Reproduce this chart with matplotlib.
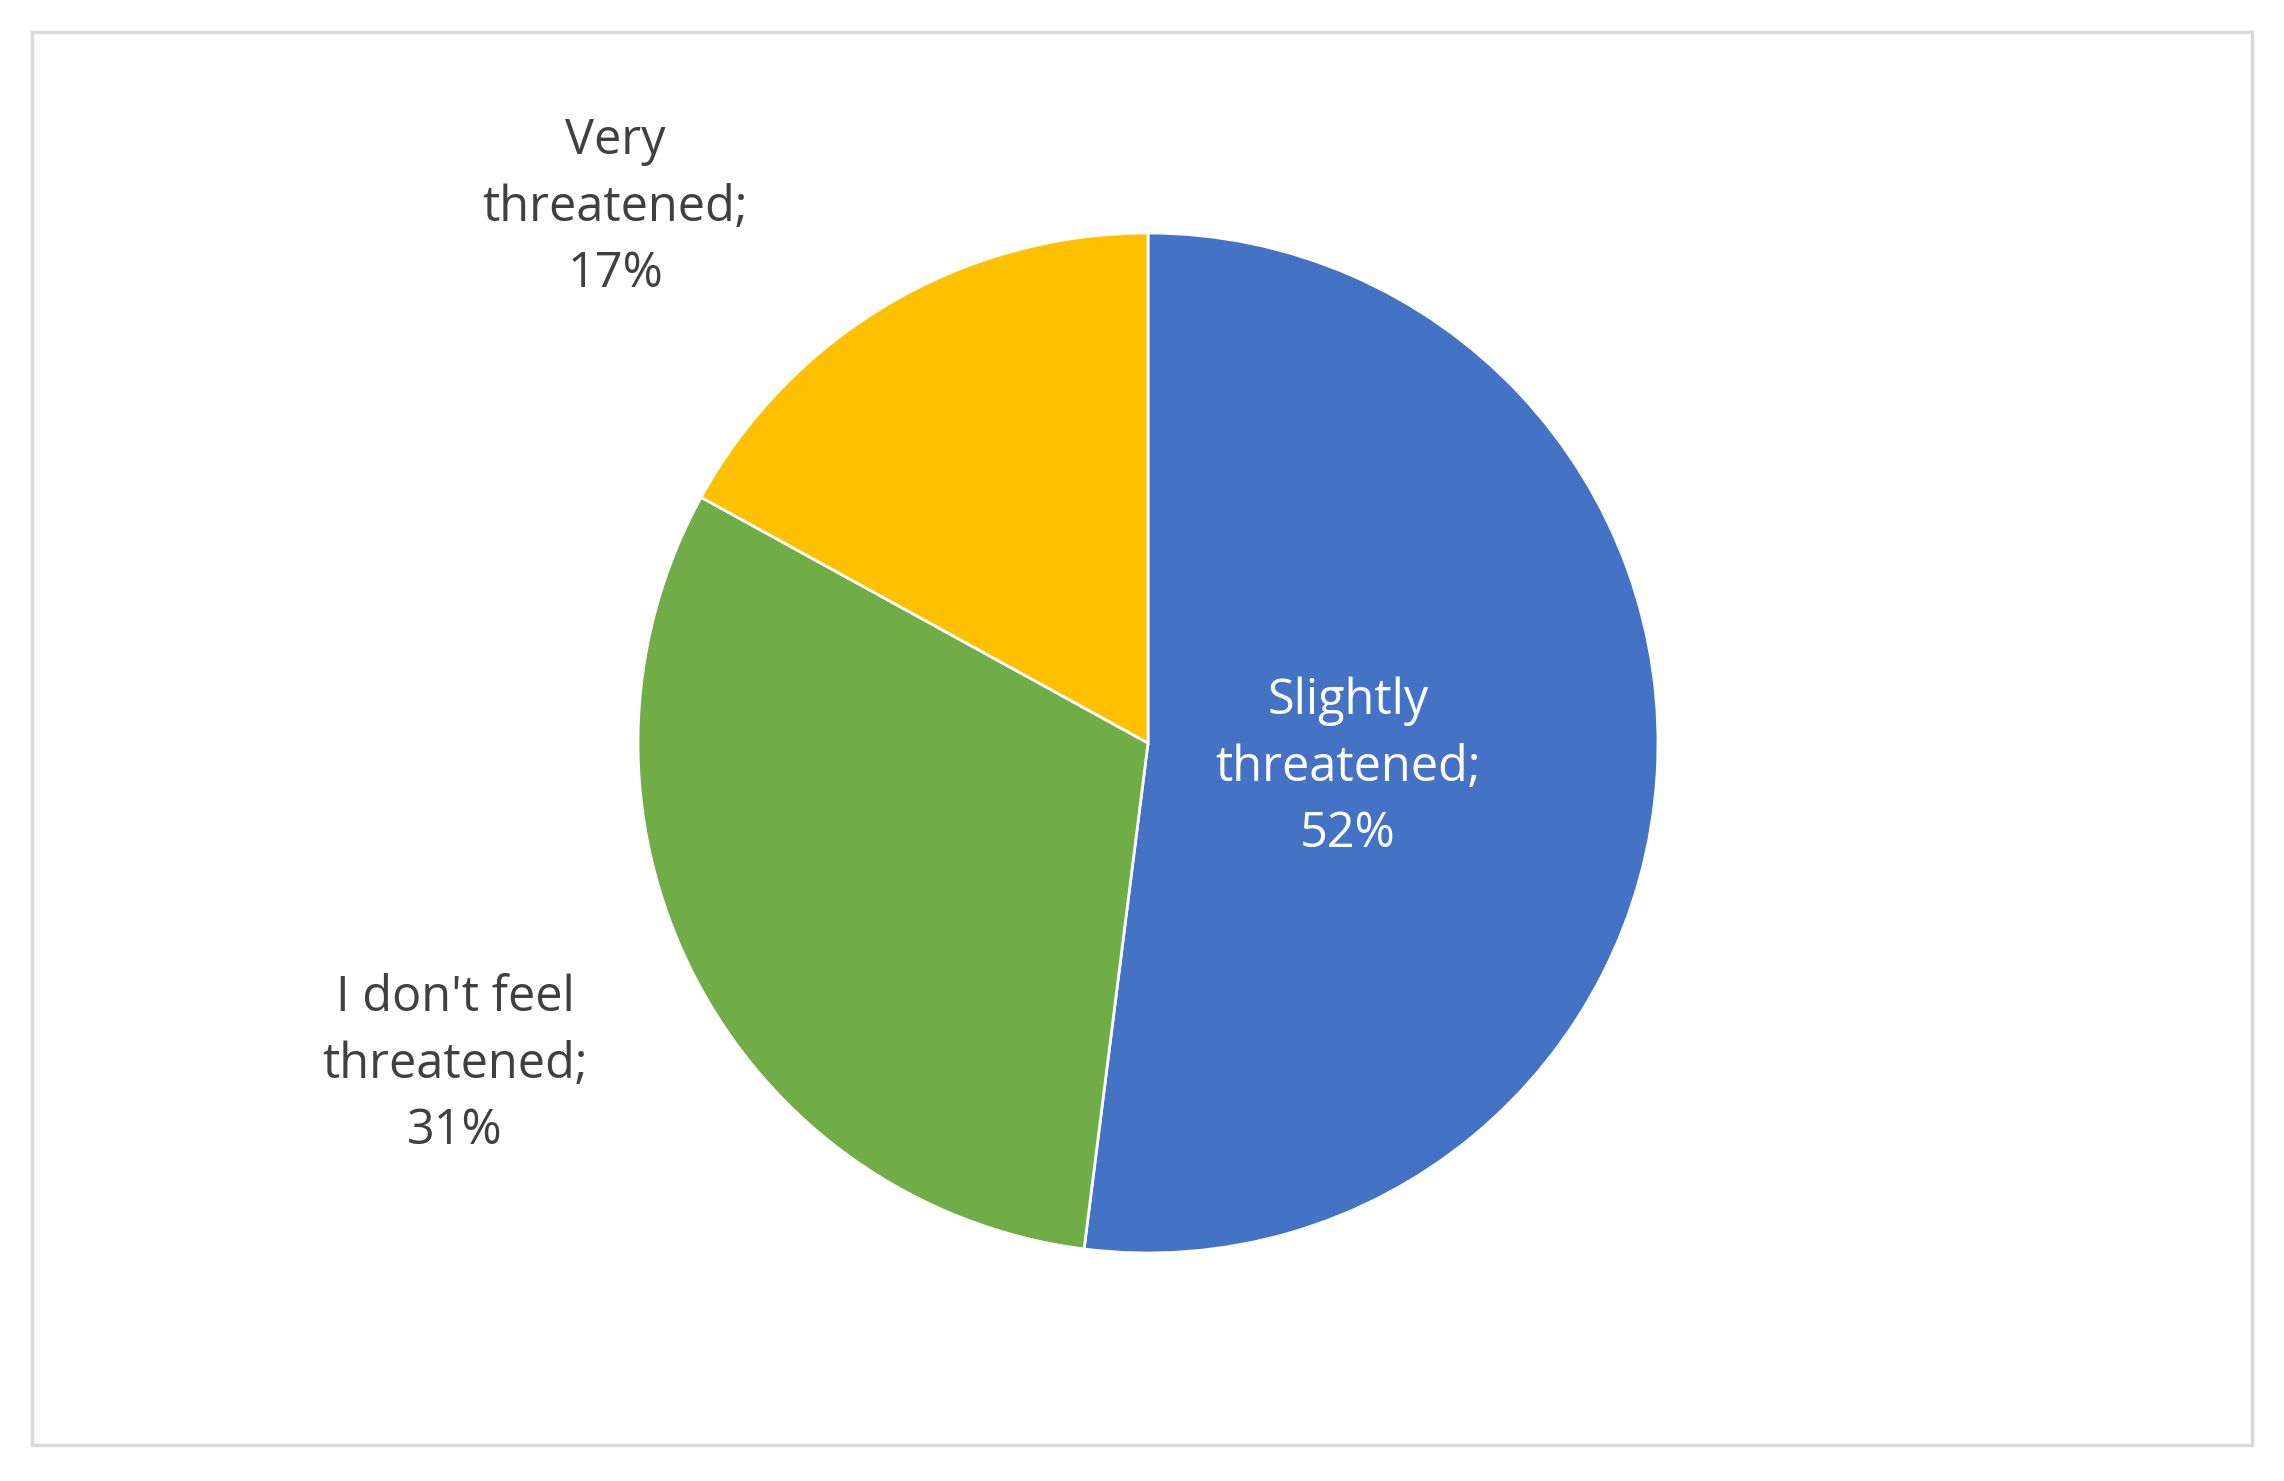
import matplotlib
matplotlib.use("Agg")
import matplotlib.pyplot as plt
from matplotlib.patches import Rectangle

categories = ["Slightly\nthreatened;\n52%", "I don't feel\nthreatened;\n31%", "Very\nthreatened;\n17%"]
values = [52, 31, 17]
colors = ["#4472C4", "#70AD47", "#FFC000"]

W, H = 2284, 1481
fig = plt.figure(figsize=(W/100, H/100), dpi=100)
ax = fig.add_axes([0, 0, 1, 1])
ax.set_xlim(0, W); ax.set_ylim(0, H); ax.set_aspect("equal"); ax.axis("off")
ax.add_patch(Rectangle((32, 36), 2220, 1413, fill=False, edgecolor="#D9D9D9", lw=2.5))

ax.pie(values, colors=colors, startangle=90, counterclock=False,
       center=(1148, 738), radius=510, frame=True,
       wedgeprops=dict(edgecolor="white", linewidth=2))
ax.set_xlim(0, W); ax.set_ylim(0, H); ax.axis("off")

fs = 35
ax.text(1348, 713, categories[0], ha="center", va="center", fontsize=fs, color="white",
        family="Open Sans", linespacing=1.45)
ax.text(455, 416, categories[1], ha="center", va="center", fontsize=fs, color="#404040",
        family="Open Sans", linespacing=1.45)
ax.text(615, 1273, categories[2], ha="center", va="center", fontsize=fs, color="#404040",
        family="Open Sans", linespacing=1.45)
fig.savefig("out.png", dpi=100)
